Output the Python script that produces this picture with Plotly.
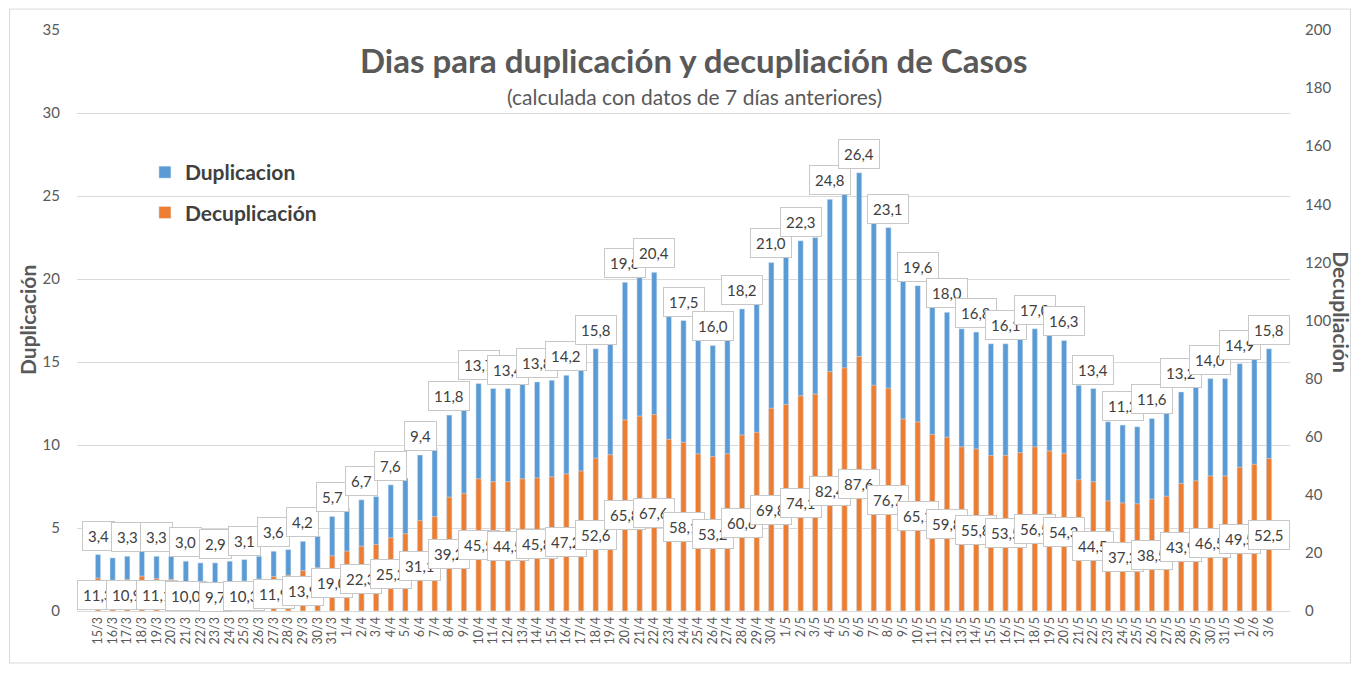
import plotly.graph_objects as go

dates = ["15/3","16/3","17/3","18/3","19/3","20/3","21/3","22/3","23/3","24/3","25/3","26/3","27/3","28/3","29/3","30/3","31/3",
         "1/4","2/4","3/4","4/4","5/4","6/4","7/4","8/4","9/4","10/4","11/4","12/4","13/4","14/4","15/4","16/4","17/4","18/4","19/4",
         "20/4","21/4","22/4","23/4","24/4","25/4","26/4","27/4","28/4","29/4","30/4",
         "1/5","2/5","3/5","4/5","5/5","6/5","7/5","8/5","9/5","10/5","11/5","12/5","13/5","14/5","15/5","16/5","17/5","18/5","19/5",
         "20/5","21/5","22/5","23/5","24/5","25/5","26/5","27/5","28/5","29/5","30/5","31/5",
         "1/6","2/6","3/6"]

duplicacion = [3.4,3.2,3.3,3.6,3.3,3.3,3.0,2.9,2.9,3.0,3.1,3.3,3.6,3.7,4.2,4.5,5.7,
               6.2,6.7,6.9,7.6,8.0,9.4,9.8,11.8,12.2,13.7,13.4,13.4,13.7,13.8,13.9,14.2,14.5,15.8,16.2,
               19.8,20.2,20.4,17.8,17.5,16.3,16.0,16.3,18.2,18.5,21.0,
               21.4,22.3,22.5,24.8,25.2,26.4,23.4,23.1,19.9,19.6,18.3,18.0,17.0,16.8,16.1,16.1,16.4,17.0,16.6,
               16.3,13.6,13.4,11.4,11.2,11.1,11.6,11.9,13.2,13.5,14.0,14.0,
               14.9,15.2,15.8]

decuplicacion = [11.3,10.6,10.9,12.0,11.1,10.9,10.0,9.5,9.7,10.0,10.3,11.0,11.9,12.3,13.9,14.9,19.0,
                 20.6,22.3,22.9,25.2,26.6,31.1,32.5,39.2,40.5,45.5,44.5,44.5,45.5,45.8,46.2,47.2,48.2,52.6,53.8,
                 65.8,67.1,67.6,59.1,58.1,54.1,53.2,54.1,60.6,61.5,69.8,
                 71.1,74.1,74.7,82.4,83.7,87.6,77.7,76.7,66.1,65.1,60.8,59.8,56.5,55.8,53.5,53.5,54.5,56.5,55.1,
                 54.3,45.2,44.5,37.9,37.2,36.9,38.5,39.5,43.9,44.8,46.5,46.5,
                 49.5,50.5,52.5]

BLUE = "#5B9BD5"
ORANGE = "#ED7D31"
GRAY = "#595959"
FONT = "Lato"

def fmt(v):
    return f"{v:.1f}".replace(".", ",")

fig = go.Figure()
fig.add_trace(go.Bar(x=dates, y=duplicacion, name="Duplicacion", marker_color=BLUE,
                     width=0.36, yaxis="y", legendgroup="a"))
fig.add_trace(go.Bar(x=dates, y=decuplicacion, name="Decuplicación", marker_color=ORANGE,
                     width=0.36, yaxis="y2", legendgroup="b"))

ann = []
box = dict(bgcolor="white", bordercolor="#c8c8c8", borderwidth=1, borderpad=5,
           font=dict(family=FONT, size=15, color="#404040"), showarrow=False)
for i in range(0, len(dates), 2):
    ann.append(dict(x=dates[i], y=duplicacion[i], xref="x", yref="y", text=fmt(duplicacion[i]),
                    yshift=19, **box))
for i in range(0, len(dates), 2):
    ann.append(dict(x=dates[i], y=decuplicacion[i] / 2, xref="x", yref="y2", text=fmt(decuplicacion[i]),
                    **box))

ann.append(dict(x=0.509, y=0.948, xref="paper", yref="paper", showarrow=False, yanchor="middle",
                text="<b>Dias para duplicación y decupliación de Casos</b>",
                font=dict(family=FONT, size=33, color=GRAY)))
ann.append(dict(x=0.509, y=0.885, xref="paper", yref="paper", showarrow=False, yanchor="middle",
                text="(calculada con datos de 7 días anteriores)",
                font=dict(family=FONT, size=21, color=GRAY)))
ann.append(dict(x=-0.0408, y=0.5, xref="paper", yref="paper", showarrow=False, textangle=-90,
                xanchor="center", yanchor="middle", text="<b>Duplicación</b>",
                font=dict(family=FONT, size=21, color=GRAY)))
ann.append(dict(x=1.0425, y=0.515, xref="paper", yref="paper", showarrow=False, textangle=90,
                xanchor="center", yanchor="middle", text="<b>Decupliación</b>",
                font=dict(family=FONT, size=21, color=GRAY)))

fig.update_layout(
    width=1345, height=657,
    margin=dict(l=69, r=63, t=22, b=54, autoexpand=False),
    paper_bgcolor="white", plot_bgcolor="white",
    barmode="overlay",
    font=dict(family=FONT, color=GRAY),
    annotations=ann,
    showlegend=True,
    legend=dict(x=0.056, y=0.79, xanchor="left", yanchor="top", tracegroupgap=10,
                font=dict(family=FONT, size=21, color="#404040", weight="bold"),
                bgcolor="rgba(0,0,0,0)", itemwidth=30),
    xaxis=dict(type="category", tickangle=-90, tickmode="array", tickvals=dates, ticktext=dates,
               tickfont=dict(family=FONT, size=12.5, color=GRAY),
               showgrid=False, showline=True, linecolor="#d9d9d9", ticks="", automargin=False),
    yaxis=dict(range=[0, 35], dtick=5, showgrid=True, gridcolor="#d9d9d9", zeroline=False,
               tickfont=dict(family=FONT, size=15, color=GRAY), ticklabelstandoff=16, automargin=False),
    yaxis2=dict(range=[0, 200], dtick=20, overlaying="y", side="right", showgrid=False, zeroline=False,
                tickfont=dict(family=FONT, size=15, color=GRAY), ticklabelstandoff=14, automargin=False),
    shapes=[dict(type="rect", xref="paper", yref="paper", x0=-0.0556, x1=1.0499, y0=-0.0895, y1=1.036,
                 line=dict(color="#d9d9d9", width=1), layer="below")],
)

fig.write_html("out.html")
